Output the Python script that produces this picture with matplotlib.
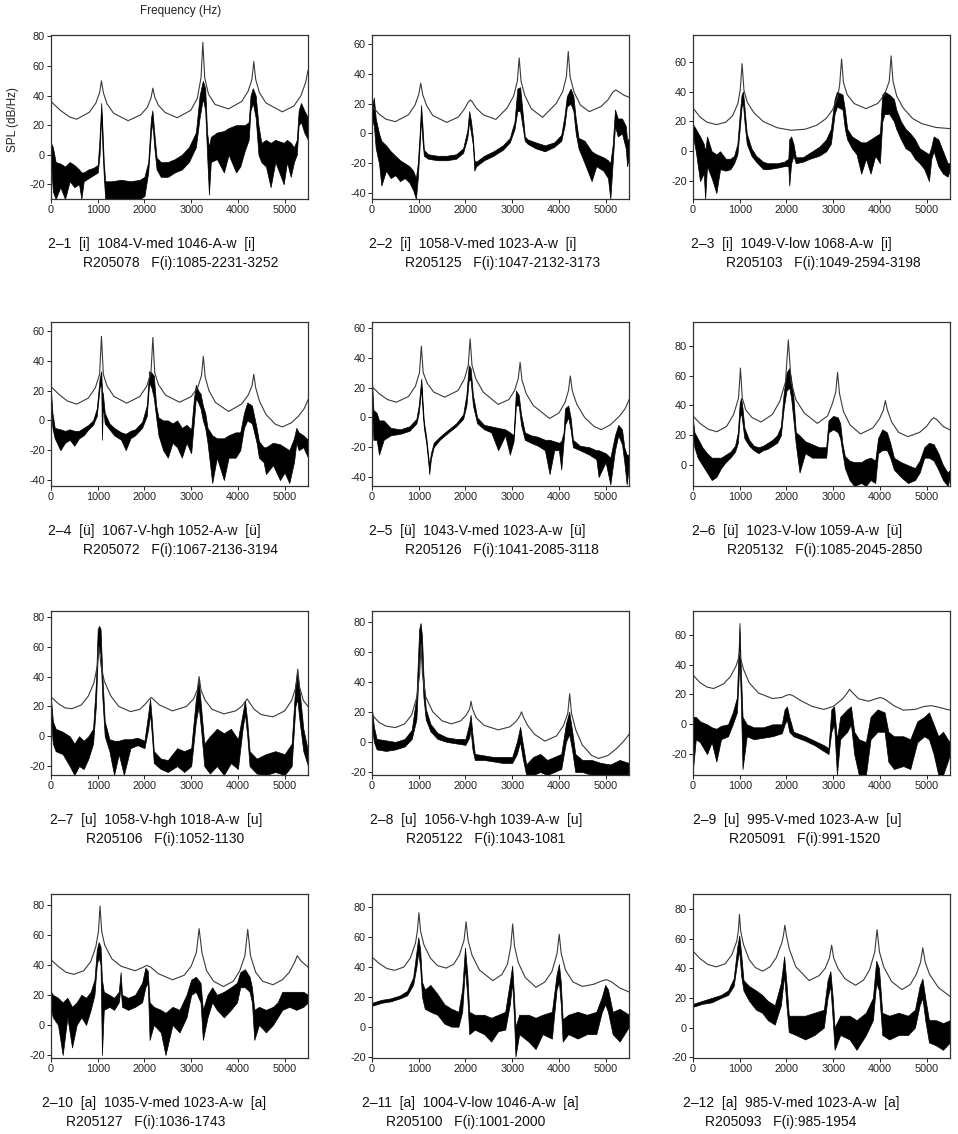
import matplotlib
matplotlib.use('Agg')
import matplotlib.pyplot as plt
from matplotlib.ticker import MultipleLocator

plt.rcParams['font.family'] = ['Liberation Sans', 'DejaVu Sans']
plt.rcParams['axes.unicode_minus'] = False

#%% captions
cap_top = ['2–1  [i]  1084-V-med 1046-A-w  [i]', '2–2  [i]  1058-V-med 1023-A-w  [i]',
           '2–3  [i]  1049-V-low 1068-A-w  [i]', '2–4  [ü]  1067-V-hgh 1052-A-w  [ü]',
           '2–5  [ü]  1043-V-med 1023-A-w  [ü]', '2–6  [ü]  1023-V-low 1059-A-w  [ü]',
           '2–7  [u]  1058-V-hgh 1018-A-w  [u]', '2–8  [u]  1056-V-hgh 1039-A-w  [u]',
           '2–9  [u]  995-V-med 1023-A-w  [u]', '2–10  [a]  1035-V-med 1023-A-w  [a]',
           '2–11  [a]  1004-V-low 1046-A-w  [a]', '2–12  [a]  985-V-med 1023-A-w  [a]']
cap_bot = ['R205078   F(i):1085-2231-3252', 'R205125   F(i):1047-2132-3173',
           'R205103   F(i):1049-2594-3198', 'R205072   F(i):1067-2136-3194',
           'R205126   F(i):1041-2085-3118', 'R205132   F(i):1085-2045-2850',
           'R205106   F(i):1052-1130', 'R205122   F(i):1043-1081',
           'R205091   F(i):991-1520', 'R205127   F(i):1036-1743',
           'R205100   F(i):1001-2000', 'R205093   F(i):985-1954']

#%% 2-1
up1_f = [0, 200, 400, 550, 820, 960, 1040, 1080, 1120, 1200, 1340, 1650, 1920, 2060, 2140, 2180, 2220, 2300, 2440, 2700,
         2990, 3130, 3210, 3250, 3290, 3370, 3510, 3800, 4080, 4220, 4300, 4340, 4380, 4460, 4600, 4950, 5200, 5350, 5450, 5500]
up1_db = [36, 30, 25.5, 24, 28.7, 34.9, 42, 50, 42, 34.3, 28, 23, 27, 32, 38.4, 45, 39, 33.4, 28.6, 25,
          30, 38, 52, 76, 52, 41, 34, 31, 36, 43, 51, 63, 51, 42, 35, 29, 33, 40, 49, 57]
sp1_f = [0, 40, 100, 200, 300, 400, 500, 600, 650, 700, 800, 900, 1000, 1040, 1075, 1100, 1130, 1160, 1300, 1500,
         1700, 1900, 2000, 2080, 2140, 2170, 2210, 2260, 2350, 2500, 2650, 2800, 2950, 3100, 3180, 3250, 3300, 3340, 3380, 3420,
         3550, 3700, 3800, 3960, 4050, 4150, 4230, 4270, 4320, 4380, 4440, 4500, 4600, 4700, 4800, 4980, 5050, 5130, 5200, 5260,
         5300, 5350, 5420, 5500]
sp1_lo = [-5, -25, -30, -22, -30, -18, -22, -20, -30, -18, -16, -14, -12, 0, 28, 5, -15, -30, -30, -30,
          -30, -30, -28, -12, 15, 22, 5, -10, -15, -15, -12, -10, -5, 5, 25, 38, 30, 0, -27, -5,
          -3, -12, 0, -12, -8, 3, 10, 30, 35, 25, 0, -5, -8, -22, -5, -20, -5, -15, -5, 0,
          20, 22, 15, 10]
sp1_hi = [8, 5, -5, -6, -8, -5, -7, -10, -12, -12, -10, -9, -7, 12, 35, 18, -5, -18, -18, -17,
          -18, -17, -15, -5, 25, 30, 15, -2, -5, -5, -3, 0, 5, 15, 40, 50, 45, 15, 5, 12,
          15, 16, 18, 20, 20, 20, 22, 40, 45, 40, 20, 8, 10, 8, 10, 8, 10, 8, 5, 10,
          30, 35, 30, 25]

#%% 2-2
up2_f = [0, 150, 300, 500, 780, 920, 1000, 1043, 1085, 1165, 1300, 1600, 1850, 1980, 2060, 2105, 2150, 2230, 2380, 2650,
         2890, 3030, 3110, 3150, 3190, 3270, 3410, 3650, 3940, 4080, 4160, 4200, 4240, 4320, 4460, 4650, 4900, 5050, 5150, 5220,
         5300, 5400, 5500]
up2_db = [18.4, 13, 9.5, 7.9, 12.5, 19, 26, 33.7, 26, 19, 12, 7.4, 11, 16.5, 21, 22.5, 21, 17, 12.5, 9.4,
          17, 25, 35, 50.6, 35, 25.5, 16.5, 10.8, 20, 28, 38, 55, 38, 28, 19, 14.6, 18, 22.5, 27.5, 29.2,
          27.5, 25.5, 24.3]
sp2_f = [0, 40, 80, 150, 200, 300, 400, 500, 600, 700, 800, 880, 940, 980, 1020, 1050, 1080, 1110, 1200, 1400,
         1600, 1800, 1950, 2040, 2080, 2120, 2160, 2190, 2230, 2400, 2600, 2800, 2950, 3050, 3110, 3170, 3220, 3270, 3330, 3500,
         3700, 3900, 4050, 4120, 4170, 4250, 4310, 4360, 4420, 4550, 4700, 4800, 4950, 5050, 5100, 5150, 5200, 5260, 5350, 5430,
         5460, 5500]
sp2_lo = [10, 5, -10, -20, -35, -25, -30, -28, -32, -30, -33, -38, -44, -30, -8, 10, -5, -15, -17, -18,
          -18, -17, -13, -3, 8, 0, -8, -25, -22, -18, -15, -11, -6, 3, 15, 15, 5, -5, -7, -10,
          -12, -9, -5, 5, 18, 20, 15, 0, -10, -20, -32, -22, -25, -30, -44, -20, 5, -2, 0, -10,
          -22, -15]
sp2_hi = [18, 24, 10, 0, -5, -8, -12, -15, -18, -20, -22, -25, -30, -20, 0, 19, 5, -11, -14, -15,
          -15, -14, -10, 2, 15, 8, -3, -18, -19, -15, -12, -8, -3, 8, 30, 31, 15, -2, -4, -6,
          -8, -6, -1, 12, 25, 30, 25, 10, -3, -5, -12, -14, -16, -18, -20, -8, 16, 10, 10, 5,
          -5, -3]

#%% 2-3
up3_f = [0, 150, 300, 500, 700, 850, 960, 1010, 1051, 1090, 1160, 1300, 1500, 1800, 2100, 2400, 2650, 2850, 2990, 3100,
         3140, 3180, 3220, 3300, 3450, 3700, 3950, 4100, 4200, 4240, 4280, 4360, 4500, 4700, 4900, 5200, 5500]
up3_db = [29, 23, 19.5, 17.9, 19.5, 24, 32, 41, 58.8, 41, 33, 26, 20, 15.8, 14.1, 14.8, 17.5, 22, 28, 37,
          45, 62, 46, 38, 32, 28.6, 32, 38, 47, 64, 47, 37, 29, 22, 18.5, 16, 15.2]
sp3_f = [0, 60, 150, 230, 260, 300, 400, 500, 580, 700, 800, 880, 950, 1000, 1040, 1070, 1100, 1150, 1250, 1350,
         1500, 1600, 1800, 1950, 2040, 2060, 2100, 2150, 2200, 2350, 2500, 2700, 2850, 2950, 3030, 3080, 3200, 3250, 3300, 3400,
         3500, 3600, 3700, 3800, 3900, 4000, 4050, 4100, 4200, 4300, 4350, 4450, 4550, 4650, 4750, 4850, 4950, 5050, 5100, 5150,
         5250, 5350, 5450, 5500]
sp3_lo = [10, 0, -20, -15, -32, -10, -18, -28, -12, -13, -12, -8, -2, 15, 30, 32, 20, 5, -3, -7,
          -12, -12, -11, -10, -10, -23, -8, -3, -8, -7, -5, -3, 0, 5, 25, 30, 28, 15, 8, 2,
          -2, -15, -5, -15, -3, -8, 20, 25, 25, 20, 15, 8, 2, 0, -5, -8, -12, -20, -5, 0,
          -10, -15, -17, -12]
sp3_hi = [18, 15, 10, 5, 0, 10, 0, -2, 0, -5, -5, -3, 5, 25, 38, 40, 30, 12, 2, -3,
          -7, -8, -8, -7, -5, 8, 10, 5, -4, -4, -1, 3, 8, 15, 35, 40, 38, 28, 15, 10,
          8, 6, 6, 8, 10, 12, 38, 40, 38, 35, 28, 20, 15, 12, 8, 2, 0, -2, 3, 10,
          8, 0, -8, -8]

#%% 2-4
up4_f = [0, 150, 350, 550, 800, 950, 1040, 1080, 1120, 1200, 1350, 1620, 1900, 2050, 2140, 2180, 2220, 2300, 2450, 2750,
         3000, 3140, 3220, 3260, 3300, 3380, 3520, 3800, 4080, 4220, 4300, 4340, 4380, 4460, 4600, 4800, 4950, 5150, 5300, 5420,
         5500]
up4_db = [22.7, 18, 13, 10.9, 15, 22, 31, 56.4, 31, 23, 16, 11.6, 16, 23, 32, 55.6, 32, 24, 17, 12.2,
          16, 22, 30, 43, 29, 20, 12, 6, 11, 17, 23, 30.9, 22, 13, 4, -2.5, -4.4, -1.5, 3, 8,
          13.8]
sp4_f = [0, 30, 80, 200, 300, 400, 500, 600, 700, 800, 900, 980, 1040, 1075, 1090, 1110, 1150, 1250, 1350, 1500,
         1600, 1700, 1800, 1950, 2050, 2100, 2150, 2200, 2250, 2300, 2400, 2500, 2600, 2700, 2800, 2900, 3000, 3060, 3100, 3150,
         3200, 3250, 3300, 3350, 3450, 3550, 3700, 3800, 3950, 4050, 4130, 4200, 4300, 4400, 4450, 4550, 4600, 4750, 4900, 5000,
         5100, 5200, 5250, 5300, 5400, 5500]
sp4_lo = [10, -5, -12, -20, -15, -13, -17, -12, -10, -6, -3, 3, 22, 25, -13, 10, -2, -6, -10, -13,
          -20, -12, -10, -5, 3, 25, 22, 15, 2, -10, -20, -25, -15, -18, -25, -15, -22, 0, 15, 12,
          8, 0, -5, -15, -42, -25, -40, -25, -25, -20, -5, 0, -2, -15, -25, -28, -36, -30, -40, -35,
          -42, -28, -15, -20, -18, -25]
sp4_hi = [20, 5, -5, -6, -7, -6, -7, -7, -5, -3, 0, 8, 28, 33, 20, 18, 5, -2, -5, -8,
          -9, -7, -6, -1, 10, 33, 32, 30, 10, 2, 0, 0, -2, 0, -5, -3, -6, 15, 24, 20,
          18, 10, 5, -5, -10, -12, -12, -10, -8, -8, 5, 12, 10, -5, -14, -18, -18, -15, -16, -18,
          -20, -12, -5, -8, -10, -13]

#%% 2-5
up5_f = [0, 150, 330, 520, 780, 930, 1016, 1056, 1096, 1180, 1320, 1555, 1840, 1980, 2060, 2100, 2140, 2220, 2380, 2700,
         2930, 3050, 3130, 3170, 3210, 3300, 3450, 3800, 4000, 4130, 4205, 4244, 4285, 4380, 4550, 4750, 4907, 5100, 5300, 5420,
         5500]
up5_db = [20.7, 16, 12, 10.2, 14, 21, 30, 47.8, 30, 23, 17, 13.6, 18, 26, 35, 52.7, 35, 26, 17, 8.7,
          12, 18, 26, 36.9, 25, 16, 8, -0.7, 3, 10, 18, 27.8, 18, 9, 0, -6, -8.2, -5, 1, 6,
          11.8]
sp5_f = [0, 30, 100, 150, 250, 400, 600, 800, 950, 1000, 1030, 1055, 1080, 1110, 1160, 1200, 1225, 1260, 1320, 1450,
         1600, 1800, 1950, 2020, 2070, 2110, 2160, 2250, 2400, 2550, 2700, 2850, 2950, 3030, 3080, 3140, 3190, 3270, 3400, 3550,
         3700, 3800, 3900, 4000, 4050, 4100, 4130, 4200, 4250, 4300, 4450, 4650, 4800, 4850, 5000, 5100, 5200, 5270, 5350, 5400,
         5450, 5500]
sp5_lo = [5, -15, -15, -25, -15, -12, -11, -9, -4, 3, 12, 20, 5, -7, -17, -29, -38, -28, -20, -15,
          -11, -6, -1, 8, 25, 25, 8, -4, -8, -10, -22, -12, -25, -16, 8, 8, -5, -15, -17, -19,
          -22, -38, -22, -22, -35, -16, -5, 0, -8, -20, -22, -25, -28, -40, -30, -45, -22, -12, -18, -30,
          -45, -32]
sp5_hi = [25, 5, 3, -2, -2, -7, -8, -6, -1, 8, 18, 26, 12, -3, -13, -25, -32, -24, -17, -13,
          -9, -4, 2, 15, 35, 33, 15, 0, -5, -6, -7, -8, -10, -12, 18, 15, 2, -10, -12, -13,
          -15, -15, -16, -17, -16, -10, 6, 8, 0, -15, -19, -20, -22, -22, -24, -27, -12, -5, -8, -20,
          -25, -25]

#%% 2-6
up6_f = [0, 150, 330, 511, 720, 870, 975, 1015, 1055, 1130, 1260, 1455, 1700, 1860, 1980, 2040, 2100, 2200, 2380, 2661,
         2880, 2980, 3055, 3094, 3135, 3220, 3360, 3584, 3850, 3990, 4075, 4116, 4160, 4250, 4400, 4599, 4850, 5000, 5100, 5150,
         5220, 5350, 5500]
up6_db = [32.9, 28, 24, 22.4, 26, 34, 45, 65.1, 45, 37, 32, 28.9, 34, 43, 56, 84, 56, 44, 35, 28,
          33, 41, 49, 62.2, 48, 36, 27, 20.9, 25, 31, 37, 43.3, 37, 29, 22, 19.1, 22, 26, 30.5, 31.8,
          30.5, 26, 23.6]
sp6_f = [0, 30, 100, 200, 300, 400, 500, 600, 700, 800, 900, 960, 1000, 1030, 1060, 1100, 1200, 1300, 1400, 1500,
         1600, 1700, 1800, 1880, 1940, 2000, 2060, 2100, 2150, 2200, 2280, 2400, 2550, 2700, 2850, 2900, 3000, 3100, 3150, 3200,
         3250, 3350, 3450, 3600, 3700, 3800, 3900, 3960, 4050, 4150, 4220, 4300, 4450, 4600, 4750, 4850, 4950, 5050, 5150, 5250,
         5350, 5450, 5500]
sp6_lo = [20, 12, 5, 0, -5, -10, -8, -2, 2, 5, 9, 15, 32, 35, 28, 18, 13, 10, 8, 10,
          11, 13, 15, 20, 38, 50, 52, 45, 30, 14, -5, 8, 5, 5, 5, 22, 24, 22, 18, 8,
          -2, -10, -14, -12, -14, -10, -12, 8, 10, 10, 5, -3, -8, -12, -10, -5, 5, 5, 3, -3,
          -10, -14, -8]
sp6_hi = [30, 22, 18, 12, 8, 5, 5, 5, 7, 9, 13, 22, 42, 45, 38, 25, 17, 13, 12, 13,
          15, 17, 20, 26, 48, 62, 65, 58, 45, 22, 20, 16, 14, 12, 12, 30, 33, 32, 28, 14,
          6, 3, 2, 2, 4, 5, 3, 18, 24, 22, 15, 5, 2, 0, -2, 3, 12, 15, 14, 8,
          0, -5, -3]

#%% 2-7
up7_f = [0, 150, 300, 450, 650, 800, 920, 990, 1030, 1070, 1140, 1280, 1450, 1700, 1900, 2030, 2110, 2150, 2200, 2320,
         2600, 2900, 3050, 3130, 3170, 3210, 3300, 3450, 3700, 3950, 4080, 4160, 4200, 4240, 4350, 4500, 4750, 5000, 5150, 5240,
         5280, 5320, 5400, 5500]
up7_db = [26.4, 22, 19, 18.5, 21, 27, 36, 47, 60, 47, 37, 27, 20, 16.5, 18, 22, 25, 26, 24.5, 21,
          17, 20, 25, 31, 40, 31, 24, 18, 15, 17, 20, 23.5, 25, 23, 18, 14.5, 13, 17, 24, 33,
          45, 33, 24, 20]
sp7_f = [0, 40, 100, 250, 400, 500, 600, 700, 800, 900, 960, 1000, 1030, 1060, 1100, 1150, 1250, 1350, 1450, 1560,
         1700, 1850, 2000, 2080, 2120, 2160, 2200, 2350, 2500, 2700, 2850, 3000, 3100, 3160, 3210, 3280, 3400, 3550, 3700, 3850,
         4000, 4100, 4150, 4200, 4250, 4400, 4600, 4800, 5000, 5150, 5230, 5270, 5320, 5400, 5500]
sp7_lo = [10, -5, -10, -12, -20, -26, -20, -22, -15, -5, 20, 55, 60, 55, 25, 0, -10, -26, -12, -26,
          -8, -6, -8, 5, 15, 0, -18, -22, -24, -20, -24, -20, 10, 20, 5, -20, -25, -20, -26, -18,
          -22, 5, 15, 0, -20, -25, -26, -24, -26, -20, 20, 25, 10, -10, -20]
sp7_hi = [25, 10, 5, 3, 0, -5, 0, -3, 0, 5, 35, 72, 74, 72, 40, 10, -2, -3, -3, -2,
          -2, -1, -3, 15, 25, 10, -10, -15, -16, -8, -10, -8, 25, 38, 20, -5, 0, 5, 2, 5,
          -2, 15, 24, 10, -10, -15, -12, -10, -12, -5, 35, 44, 30, 5, -10]

#%% 2-8
up8_f = [0, 150, 300, 500, 700, 850, 960, 1020, 1050, 1080, 1150, 1300, 1500, 1700, 1900, 2020, 2090, 2120, 2150, 2230,
         2400, 2700, 2950, 3080, 3160, 3200, 3240, 3330, 3480, 3700, 3950, 4100, 4190, 4230, 4270, 4360, 4500, 4700, 4850, 5050,
         5250, 5400, 5500]
up8_db = [18, 13, 10.5, 9.5, 12, 18, 30, 45, 65, 45, 30, 20, 14, 12, 14, 18, 22, 27, 22, 16,
          11, 8, 10, 13.5, 17, 20, 16.5, 11, 5, 0.5, 4, 11, 19, 32, 19, 8, -2, -9, -11, -9,
          -4, 1, 5]
sp8_f = [0, 40, 100, 300, 500, 700, 850, 950, 1010, 1040, 1070, 1100, 1150, 1250, 1400, 1600, 1800, 2000, 2080, 2110,
         2150, 2200, 2400, 2600, 2800, 3000, 3100, 3170, 3220, 3300, 3450, 3600, 3750, 3900, 4050, 4150, 4220, 4280, 4350, 4500,
         4700, 4900, 5100, 5300, 5500]
sp8_lo = [10, 0, -5, -6, -5, -3, 2, 15, 55, 65, 50, 30, 15, 7, 2, 0, -1, -2, 3, 8,
          -5, -12, -12, -13, -14, -14, -8, 0, -10, -22, -22, -20, -22, -20, -18, 0, 5, -5, -20, -20,
          -22, -22, -22, -22, -22]
sp8_hi = [22, 10, 2, 1, 0, 2, 8, 30, 75, 79, 70, 45, 22, 12, 6, 3, 2, 2, 12, 18,
          5, -8, -9, -10, -10, -10, 0, 10, 0, -15, -10, -8, -12, -10, -8, 12, 20, 8, -8, -12,
          -12, -14, -15, -12, -14]

#%% 2-9
up9_f = [0, 150, 300, 440, 650, 800, 920, 970, 995, 1020, 1080, 1200, 1400, 1700, 1900, 2000, 2072, 2150, 2300, 2550,
         2800, 3000, 3200, 3300, 3350, 3420, 3550, 3760, 3900, 4010, 4100, 4300, 4500, 4750, 4950, 5100, 5250, 5500]
up9_db = [33, 28, 25, 24, 27, 32, 39, 44, 48.4, 44, 37, 28, 21, 17.3, 18, 19.5, 20, 19, 16, 12,
          10, 12, 17, 21, 23.5, 21, 17, 15.5, 17, 18, 17, 12.5, 9.5, 10, 12, 12.5, 11.5, 9.5]
sp9_f = [0, 60, 150, 300, 400, 500, 600, 750, 850, 940, 975, 995, 1020, 1060, 1150, 1300, 1500, 1700, 1900, 1960,
         2010, 2060, 2150, 2400, 2600, 2800, 2900, 2960, 3020, 3080, 3150, 3300, 3380, 3450, 3550, 3700, 3800, 3950, 4100, 4180,
         4300, 4500, 4650, 4800, 4950, 5050, 5150, 5250, 5350, 5450, 5500]
sp9_lo = [-30, -10, -12, -20, -12, -25, -10, -8, 0, 8, 30, 45, 20, -30, -8, -10, -9, -8, -6, 0,
          3, -5, -8, -11, -14, -18, -20, -5, 0, -34, -10, -5, 0, -20, -34, -34, -10, -5, -5, -25,
          -30, -28, -30, -12, -8, -10, -20, -34, -34, -25, -20]
sp9_hi = [5, 5, 2, 0, -2, -3, -1, 0, 8, 18, 50, 68, 40, 5, 0, -2, -2, 0, 0, 10,
          12, 5, -5, -8, -11, -14, -16, 10, 12, -10, 5, 10, 12, -5, -10, -12, 5, 10, 8, -5,
          -8, -8, -10, 2, 5, 8, 0, -8, -5, -10, -12]

#%% 2-10
up10_f = [0, 150, 320, 490, 700, 850, 960, 1015, 1050, 1085, 1150, 1300, 1500, 1800, 1950, 2050, 2130, 2300, 2600, 2850,
          3000, 3110, 3170, 3230, 3330, 3480, 3690, 3900, 4040, 4150, 4210, 4270, 4380, 4530, 4750, 4950, 5100, 5220, 5270, 5350,
          5500]
up10_db = [43.3, 39, 35, 33.6, 36, 42, 52, 62, 79, 62, 53, 44, 39, 36, 38, 39.5, 38.5, 34, 30, 33,
           39, 48, 64, 48, 36, 29, 25.5, 29, 36, 46, 63.5, 46, 35, 29, 26.7, 30, 35, 42, 46, 42.5,
           38.4]
sp10_f = [0, 40, 150, 250, 350, 450, 550, 650, 750, 850, 930, 980, 1020, 1060, 1090, 1130, 1250, 1350, 1450, 1490,
          1520, 1650, 1800, 1950, 2020, 2070, 2110, 2200, 2350, 2450, 2600, 2750, 2900, 3000, 3100, 3200, 3250, 3350, 3450, 3550,
          3700, 3850, 3980, 4050, 4150, 4250, 4300, 4350, 4450, 4600, 4750, 4850, 4950, 5100, 5250, 5400, 5500]
sp10_lo = [10, 5, 0, -20, 5, -15, 0, 5, 0, 10, 20, 40, 45, 40, -20, 10, 12, 10, 15, 25,
           12, 10, 12, 15, 25, 28, -10, 0, -5, -20, 0, -5, 5, 20, 22, 15, -10, 5, 15, 10,
           5, 10, 15, 25, 25, 22, 15, -10, 0, -5, 0, 5, 10, 12, 10, 12, 15]
sp10_hi = [22, 20, 18, 15, 18, 12, 15, 20, 18, 22, 30, 50, 55, 52, 30, 22, 20, 18, 22, 35,
           20, 18, 20, 28, 38, 36, 15, 12, 10, 8, 12, 10, 20, 30, 32, 28, 10, 20, 25, 20,
           22, 25, 28, 35, 37, 32, 25, 10, 12, 10, 12, 15, 22, 22, 22, 22, 20]

#%% 2-11
up11_f = [0, 150, 320, 484, 680, 820, 930, 970, 1004, 1040, 1110, 1250, 1400, 1587, 1750, 1870, 1970, 2014, 2055, 2140,
          2300, 2584, 2780, 2900, 2970, 3011, 3050, 3130, 3280, 3509, 3700, 3850, 3960, 4007, 4050, 4140, 4300, 4505, 4750, 4900,
          5018, 5130, 5300, 5500]
up11_db = [46.7, 42.5, 39, 37.8, 40, 46, 56, 64, 76.4, 64, 55, 46, 41, 39.3, 42, 48, 58, 70.4, 58, 48,
           38, 30.9, 35, 42, 54, 68.9, 54, 43, 33, 26.4, 30, 37, 49, 62, 49, 38, 30, 27, 28.5, 30.5,
           31.6, 30, 26, 23.3]
sp11_f = [0, 200, 400, 600, 750, 880, 950, 990, 1030, 1070, 1130, 1250, 1400, 1550, 1700, 1850, 1930, 1990, 2040, 2080,
          2200, 2400, 2550, 2700, 2850, 2950, 3000, 3040, 3070, 3150, 3350, 3500, 3650, 3850, 3950, 4000, 4040, 4080, 4200, 4400,
          4600, 4800, 4920, 4990, 5050, 5150, 5300, 5400, 5500]
sp11_lo = [14, 16, 17, 19, 21, 28, 40, 50, 40, 20, 12, 10, 8, 2, 0, 0, 10, 40, 20, -5,
           -2, -5, -10, -3, -2, 15, 30, 5, -20, -5, -10, -15, -5, -8, 25, 30, 15, -10, -5, -8,
           -5, -5, 10, 15, 10, -5, -10, -5, 0]
sp11_hi = [16, 18, 19, 21, 24, 33, 50, 60, 52, 30, 25, 28, 22, 15, 12, 10, 25, 53, 35, 10,
           8, 8, 6, 8, 10, 30, 41, 20, 0, 8, 8, 6, 8, 10, 35, 42, 30, 5, 8, 10,
           8, 10, 20, 28, 25, 10, 12, 10, 8]

#%% 2-12
up12_f = [0, 150, 320, 497, 690, 830, 935, 970, 994, 1020, 1080, 1200, 1330, 1490, 1650, 1780, 1900, 1935, 1966, 2000,
          2060, 2200, 2484, 2700, 2830, 2920, 2967, 3010, 3100, 3250, 3478, 3650, 3780, 3890, 3939, 3990, 4080, 4250, 4471, 4650,
          4780, 4870, 4918, 4970, 5060, 5250, 5500]
up12_db = [51.5, 46.5, 42.5, 40.9, 43, 49, 58, 65, 76.2, 65, 56, 46, 40.5, 38, 41, 47, 57, 62, 69, 62,
           53, 41, 31.7, 35, 40, 47, 55.5, 47, 40, 33, 28.5, 32, 39, 51, 66, 51, 41, 31, 25.6, 29,
           36, 44, 53.7, 44, 36, 27, 21]
sp12_f = [0, 200, 400, 600, 750, 870, 950, 990, 1030, 1080, 1200, 1350, 1480, 1600, 1750, 1880, 1950, 2000, 2050, 2200,
          2400, 2600, 2800, 2880, 2940, 2990, 3030, 3150, 3350, 3500, 3700, 3850, 3920, 3980, 4050, 4200, 4400, 4600, 4750, 4850,
          4910, 4970, 5050, 5200, 5350, 5500]
sp12_lo = [14, 16, 17, 20, 22, 28, 45, 52, 35, 25, 18, 12, 10, 5, 2, 15, 35, 15, -3, -5,
           -8, -5, 0, 20, 28, 5, -15, -5, -8, -15, -5, 5, 30, 25, -5, -8, -5, -5, 0, 15,
           20, 5, -10, -12, -15, -10]
sp12_hi = [16, 18, 20, 22, 25, 33, 55, 62, 50, 32, 28, 25, 22, 18, 15, 30, 48, 30, 8, 8,
           8, 10, 12, 32, 38, 20, 0, 8, 8, 5, 10, 20, 45, 40, 10, 8, 10, 8, 12, 28,
           33, 20, 5, 5, 3, 5]

#%%
ups = [(up1_f, up1_db), (up2_f, up2_db), (up3_f, up3_db), (up4_f, up4_db), (up5_f, up5_db), (up6_f, up6_db),
       (up7_f, up7_db), (up8_f, up8_db), (up9_f, up9_db), (up10_f, up10_db), (up11_f, up11_db), (up12_f, up12_db)]
sps = [(sp1_f, sp1_lo, sp1_hi), (sp2_f, sp2_lo, sp2_hi), (sp3_f, sp3_lo, sp3_hi), (sp4_f, sp4_lo, sp4_hi),
       (sp5_f, sp5_lo, sp5_hi), (sp6_f, sp6_lo, sp6_hi), (sp7_f, sp7_lo, sp7_hi), (sp8_f, sp8_lo, sp8_hi),
       (sp9_f, sp9_lo, sp9_hi), (sp10_f, sp10_lo, sp10_hi), (sp11_f, sp11_lo, sp11_hi), (sp12_f, sp12_lo, sp12_hi)]
ylims = [(-30, 81), (-44, 66), (-32, 78), (-44, 66), (-46, 64), (-14, 96),
         (-26, 84), (-22, 87), (-34, 76), (-22, 87), (-21, 89), (-20.5, 90)]

# layout in pixels
W, H = 958, 1134
col_x = [51, 372, 693]
row_top = [35, 322, 611, 894]
ax_w, ax_h = 257, 164
cap1_dx = [-3, -3, -2, -3, -3, -1, -1, -2, 0, -9, -10, -10]
cap2_dx = [32, 33, 33, 32, 33, 34, 35, 34, 36, 15, 14, 12]

fig = plt.figure(figsize=(W / 100, H / 100), dpi=100)

for i in range(12):
    r, c = divmod(i, 3)
    x0 = col_x[c]
    y0 = row_top[r]
    ax = fig.add_axes([x0 / W, 1 - (y0 + ax_h) / H, ax_w / W, ax_h / H])
    f, lo, hi = sps[i]
    ax.fill_between(f, lo, hi, color='k', lw=0.5)
    uf, udb = ups[i]
    ax.plot(uf, udb, color='#3a3a3a', lw=0.8)
    ax.set_xlim(0, 5500)
    ax.set_ylim(*ylims[i])
    ax.xaxis.set_major_locator(MultipleLocator(1000))
    ax.yaxis.set_major_locator(MultipleLocator(20))
    ax.tick_params(direction='out', length=3, width=0.7, labelsize=7.8, pad=1.5, colors='#222')
    for s in ax.spines.values():
        s.set_color('#333')
        s.set_linewidth(0.9)
    yb = y0 + ax_h
    fig.text((x0 + cap1_dx[i]) / W, 1 - (yb + 45) / H, cap_top[i], fontsize=10, va='center', ha='left', color='#111')
    fig.text((x0 + cap2_dx[i]) / W, 1 - (yb + 64) / H, cap_bot[i], fontsize=10, va='center', ha='left', color='#111')

fig.text(181 / W, 1 - 11 / H, 'Frequency (Hz)', fontsize=8.5, ha='center', va='center', color='#222')
fig.text(13 / W, 1 - 120 / H, 'SPL (dB/Hz)', fontsize=8.5, ha='center', va='center', rotation=90, color='#222')

fig.savefig('out.png', dpi=100)
